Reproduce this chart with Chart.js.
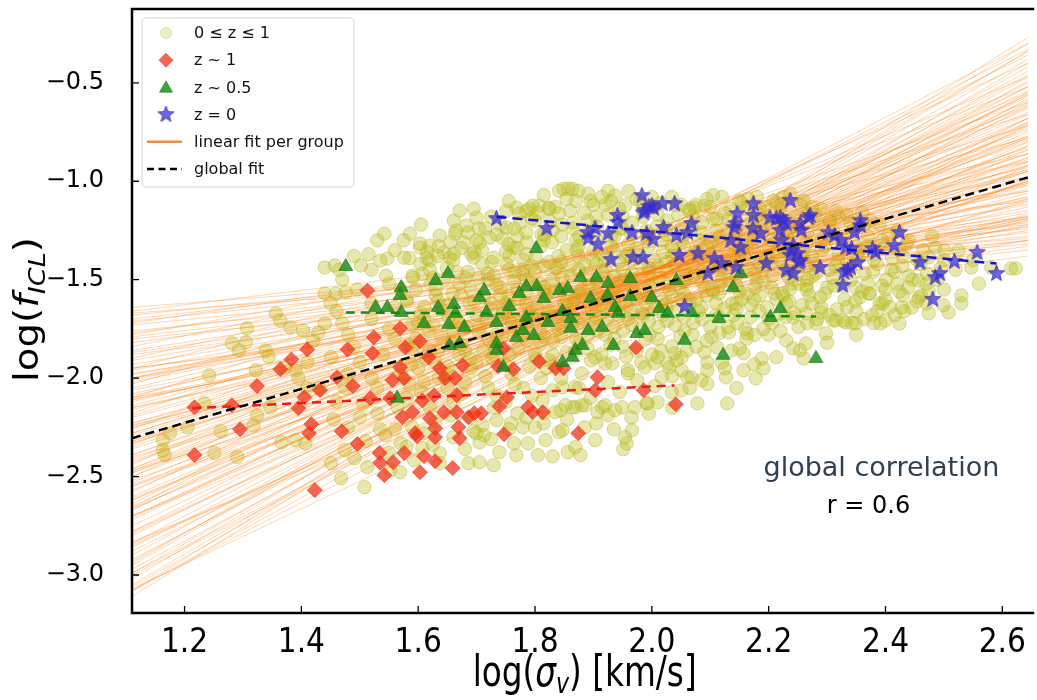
<!DOCTYPE html>
<html><head><meta charset="utf-8">
<script src="https://cdn.jsdelivr.net/npm/chart.js@4.4.1/dist/chart.umd.min.js"></script>
<style>html,body{margin:0;padding:0;background:#fff;overflow:hidden}#wrap{width:1037px;height:700px;position:relative}</style>
</head><body><div id="wrap"><canvas id="c"></canvas></div>
<script>
const xTicks = [1.2,1.4,1.6,1.8,2.0,2.2,2.4,2.6];
const yTicks = [-3.0,-2.5,-2.0,-1.5,-1.0,-0.5];
const xRange = [1.11, 2.644];
const yRange = [-3.193, -0.125];
const legendLabels = ['0 \u2264 z \u2264 1','z ~ 1','z ~ 0.5','z = 0','linear fit per group','global fit'];
const annotLines = ['global correlation','r = 0.6'];

// all groups, 0 <= z <= 1
const cloudPts = [
[1.163,-2.315],[1.163,-2.366],[1.166,-2.39],[1.175,-2.28],[1.205,-2.25],[1.234,-2.128],[1.242,-1.986],[1.251,-2.38],[1.262,-2.27],[1.281,-1.823],[1.29,-2.40],[1.293,-1.859],[1.305,-1.818],[1.307,-1.747],[1.318,-2.24],[1.322,-1.96],[1.324,-2.189],[1.339,-1.859],[1.344,-1.89],[1.347,-2.148],[1.356,-1.671],[1.364,-1.707],[1.366,-2.326],[1.372,-1.95],[1.381,-1.742],[1.39,-1.96],[1.39,-2.315],[1.395,-2.0],[1.403,-1.758],[1.407,-2.331],[1.41,-2.05],[1.42,-1.81],[1.429,-1.768],[1.44,-1.438],[1.44,-1.57],[1.44,-1.722],[1.451,-1.894],[1.451,-2.432],[1.457,-1.428],[1.459,-1.57],[1.46,-1.66],[1.468,-2.508],[1.474,-2.366],[1.476,-1.565],[1.48,-1.78],[1.48,-1.98],[1.491,-2.407],[1.50,-2.2],[1.502,-1.428],[1.508,-2.554],[1.513,-2.452],[1.52,-1.62],[1.52,-1.70],[1.53,-2.05],[1.535,-1.403],[1.542,-1.266],[1.544,-2.29],[1.547,-1.393],[1.55,-1.52],[1.552,-2.468],[1.56,-1.80],[1.569,-2.478],[1.57,-2.33],[1.576,-1.388],[1.58,-1.60],[1.586,-1.266],[1.59,-2.25],[1.593,-2.417],[1.60,-1.95],[1.603,-1.337],[1.603,-1.316],[1.607,-2.356],[1.607,-1.469],[1.615,-1.393],[1.62,-1.327],[1.62,-1.403],[1.62,-1.86],[1.63,-1.55],[1.637,-1.276],[1.637,-2.382],[1.637,-2.432],[1.644,-1.362],[1.65,-2.05],[1.654,-1.388],[1.661,-1.20],[1.661,-1.367],[1.663,-1.266],[1.67,-1.72],[1.671,-1.149],[1.678,-1.311],[1.683,-1.225],[1.686,-2.432],[1.69,-1.95],[1.695,-1.388],[1.70,-1.185],[1.70,-2.28],[1.705,-1.311],[1.705,-2.427],[1.705,-2.326],[1.713,-2.29],[1.72,-1.50],[1.722,-1.286],[1.729,-1.388],[1.729,-2.442],[1.734,-2.214],[1.739,-2.376],[1.75,-1.62],[1.751,-1.235],[1.751,-1.149],[1.759,-2.229],[1.763,-1.337],[1.764,-2.331],[1.768,-1.134],[1.768,-2.391],[1.773,-1.164],[1.779,-2.25],[1.78,-1.45],[1.788,-2.331],[1.79,-1.139],[1.796,-1.124],[1.80,-1.88],[1.805,-2.391],[1.807,-1.124],[1.813,-2.113],[1.815,-2.178],[1.818,-2.315],[1.824,-1.134],[1.83,-2.062],[1.83,-2.397],[1.835,-2.173],[1.841,-1.048],[1.841,-1.164],[1.841,-2.275],[1.844,-2.163],[1.847,-2.047],[1.847,-2.265],[1.849,-1.038],[1.852,-2.138],[1.856,-2.376],[1.857,-1.038],[1.864,-1.038],[1.864,-2.148],[1.869,-2.047],[1.869,-2.148],[1.869,-2.351],[1.874,-1.048],[1.878,-2.391],[1.88,-1.976],[1.88,-2.138],[1.886,-2.138],[1.891,-1.063],[1.903,-1.894],[1.903,-2.315],[1.907,-2.173],[1.915,-2.148],[1.92,-1.925],[1.92,-2.138],[1.925,-1.048],[1.925,-2.189],[1.932,-1.925],[1.937,-1.073],[1.937,-2.163],[1.949,-2.148],[1.951,-2.361],[1.954,-2.30],[1.957,-2.331],[1.959,-1.96],[1.959,-1.976],[1.966,-2.265],[1.971,-2.148],[1.988,-1.945],[1.991,-2.128],[1.993,-2.128],[2.005,-1.925],[2.01,-1.894],[2.01,-2.123],[2.017,-1.996],[2.027,-1.925],[2.03,-1.945],[2.034,-2.072],[2.039,-1.874],[2.051,-1.96],[2.051,-2.062],[2.051,-1.894],[2.061,-1.996],[2.068,-1.996],[2.073,-1.134],[2.078,-2.128],[2.085,-2.011],[2.09,-1.124],[2.09,-1.869],[2.095,-1.96],[2.095,-1.92],[2.112,-1.844],[2.127,-1.996],[2.129,-2.128],[2.132,-1.768],[2.157,-1.96],[2.157,-1.874],[2.163,-1.773],[2.178,-2.001],[2.188,-1.90],[2.191,-1.95],[2.208,-1.098],[2.213,-1.894],[2.22,-1.671],[2.23,-1.808],[2.237,-1.063],[2.242,-1.849],[2.242,-1.692],[2.254,-1.859],[2.264,-1.824],[2.264,-1.671],[2.281,-1.722],[2.29,-1.666],[2.298,-1.773],[2.31,-1.707],[2.315,-1.707],[2.327,-1.707],[2.332,-1.717],[2.349,-1.722],[2.349,-1.54],[2.373,-1.570],[2.391,-1.722],[2.395,-1.621],[2.40,-1.707],[2.424,-1.722],[2.428,-1.641],[2.445,-1.641],[2.457,-1.504],[2.457,-1.59],[2.474,-1.555],[2.474,-1.671],[2.474,-1.387],[2.485,-1.337],[2.501,-1.352],[2.508,-1.666],[2.525,-1.352],[2.53,-1.58],[2.547,-1.438],[2.581,-1.438],[2.615,-1.443],[2.623,-1.443],
[1.62,-1.45],[1.63,-1.58],[1.61,-1.70],[1.64,-1.79],[1.66,-1.40],[1.67,-1.52],[1.65,-1.63],[1.66,-1.76],[1.68,-1.86],[1.70,-1.30],[1.71,-1.42],[1.69,-1.55],[1.70,-1.68],[1.72,-1.80],[1.74,-1.22],[1.75,-1.36],[1.73,-1.48],[1.74,-1.58],[1.76,-1.72],[1.73,-1.84],[1.77,-1.28],[1.78,-1.40],[1.77,-1.55],[1.79,-1.66],[1.78,-1.78],[1.80,-1.20],[1.81,-1.33],[1.80,-1.46],[1.82,-1.58],[1.80,-1.70],[1.81,-1.82],[1.83,-1.25],[1.84,-1.38],[1.83,-1.50],[1.85,-1.62],[1.84,-1.75],[1.83,-1.88],[1.86,-1.15],[1.87,-1.30],[1.86,-1.43],[1.88,-1.55],[1.86,-1.68],[1.87,-1.80],[1.89,-1.20],[1.90,-1.35],[1.89,-1.47],[1.91,-1.60],[1.90,-1.72],[1.89,-1.85],[1.92,-1.12],[1.93,-1.28],[1.92,-1.40],[1.94,-1.52],[1.93,-1.65],[1.92,-1.78],[1.95,-1.18],[1.96,-1.32],[1.95,-1.45],[1.97,-1.57],[1.96,-1.70],[1.95,-1.84],[1.98,-1.10],[1.99,-1.25],[1.98,-1.38],[2.00,-1.50],[1.99,-1.62],[1.98,-1.75],[2.00,-1.88],[2.01,-1.17],[2.02,-1.30],[2.01,-1.43],[2.03,-1.55],[2.02,-1.68],[2.01,-1.80],[2.04,-1.12],[2.05,-1.24],[2.04,-1.36],[2.06,-1.48],[2.05,-1.60],[2.04,-1.73],[2.06,-1.86],[2.07,-1.18],[2.08,-1.30],[2.07,-1.42],[2.09,-1.54],[2.08,-1.66],[2.07,-1.78],[2.10,-1.13],[2.11,-1.25],[2.10,-1.37],[2.12,-1.50],[2.11,-1.62],[2.10,-1.74],[2.13,-1.20],[2.14,-1.32],[2.13,-1.44],[2.15,-1.56],[2.14,-1.68],[2.16,-1.14],[2.17,-1.27],[2.16,-1.39],[2.18,-1.51],[2.17,-1.63],[2.16,-1.75],[2.19,-1.20],[2.20,-1.33],[2.19,-1.45],[2.21,-1.57],[2.20,-1.70],[2.22,-1.15],[2.23,-1.28],[2.22,-1.40],[2.24,-1.52],[2.23,-1.62],[2.22,-1.76],[2.25,-1.22],[2.26,-1.35],[2.25,-1.47],[2.27,-1.58],[2.28,-1.17],[2.29,-1.30],[2.28,-1.42],[2.30,-1.54],[2.29,-1.64],[2.31,-1.25],[2.32,-1.37],[2.31,-1.49],[2.33,-1.60],[2.34,-1.21],[2.35,-1.33],[2.34,-1.45],[2.36,-1.56],[2.35,-1.66],[2.37,-1.28],[2.38,-1.40],[2.37,-1.52],[2.39,-1.62],[2.40,-1.33],[2.41,-1.45],[2.40,-1.55],[2.43,-1.38],[2.44,-1.48],[2.43,-1.58],[2.46,-1.42],[2.47,-1.52],
[1.645,-1.50],[1.685,-1.46],[1.725,-1.62],[1.765,-1.46],[1.795,-1.52],[1.835,-1.44],[1.875,-1.38],[1.915,-1.46],[1.955,-1.38],[1.995,-1.44],[2.035,-1.38],[2.075,-1.36],[2.115,-1.43],[2.155,-1.33],[2.195,-1.39],[2.235,-1.34],[2.275,-1.48],[2.315,-1.43],[2.355,-1.39],[1.705,-1.74],[1.745,-1.66],[1.785,-1.72],[1.825,-1.68],[1.865,-1.62],[1.905,-1.66],[1.945,-1.62],[1.985,-1.68],[2.025,-1.62],[2.065,-1.60],[2.105,-1.56],[2.145,-1.62],[2.185,-1.58],[2.225,-1.58],[2.265,-1.53],[1.785,-1.26],[1.825,-1.20],[1.865,-1.24],[1.905,-1.18],[1.945,-1.24],[1.985,-1.18],[2.025,-1.24],[2.065,-1.14],[2.105,-1.19],[2.145,-1.26],[2.185,-1.14],[2.225,-1.22],[2.265,-1.17],[2.305,-1.20],
[1.45,-1.62],[1.47,-1.72],[1.49,-1.84],[1.50,-1.92],[1.52,-2.0],[1.54,-1.88],[1.55,-1.75],[1.56,-1.64],[1.57,-1.98],[1.58,-2.10],[1.59,-1.85],[1.60,-1.72],[1.61,-2.02],[1.62,-2.15],[1.63,-1.92],[1.64,-1.65],[1.65,-1.98],[1.66,-2.12],[1.67,-1.88],[1.68,-2.02],[1.69,-2.20],[1.70,-1.92],[1.72,-2.05],[1.73,-1.88],[1.75,-2.12],[1.76,-1.98],[1.78,-2.05],[1.79,-1.94],[1.81,-2.0],[1.82,-1.95],[1.46,-2.12],[1.48,-2.25],[1.51,-2.32],[1.53,-2.18],[1.55,-2.38],[1.56,-2.26],[1.58,-2.35],[1.61,-2.28],[1.63,-2.22],[1.66,-2.30],[1.68,-2.36],[1.71,-2.24],[1.73,-2.15],[1.77,-2.18],[1.80,-2.25],[1.43,-2.05],[1.41,-1.92],[1.47,-1.50],[1.49,-1.38],[1.52,-1.45],[1.56,-1.35],[1.59,-1.48],[1.57,-1.55],[1.53,-1.30],
[2.12,-1.08],[2.15,-1.10],[2.18,-1.08],[2.22,-1.12],[2.26,-1.10],[2.29,-1.14],[2.32,-1.18],[2.36,-1.16],[2.39,-1.22],[2.42,-1.25],[2.44,-1.30],[2.48,-1.28],[2.50,-1.40],[2.52,-1.45],[2.55,-1.40],[2.56,-1.52],[2.50,-1.55],[2.53,-1.62],[2.47,-1.62],[2.40,-1.60],[2.42,-1.52],[2.38,-1.72],[2.35,-1.78],[2.30,-1.82],[2.26,-1.90],[2.20,-1.78],[2.15,-1.85],[2.12,-1.92],[2.05,-1.12],[2.00,-1.08],[1.96,-1.05],[1.93,-1.10],[1.90,-1.12],[1.87,-1.10],
[1.585,-1.39],[1.591,-1.49],[1.581,-1.61],[1.589,-1.73],[1.583,-1.83],[1.588,-1.93],[1.615,-1.36],[1.621,-1.52],[1.611,-1.64],[1.618,-1.76],[1.613,-1.90],[1.655,-1.31],[1.649,-1.44],[1.659,-1.57],[1.652,-1.69],[1.657,-1.82],[1.651,-1.94],[1.685,-1.26],[1.691,-1.37],[1.681,-1.49],[1.688,-1.62],[1.683,-1.74],[1.689,-1.90],[1.715,-1.24],[1.709,-1.35],[1.719,-1.47],[1.712,-1.59],[1.717,-1.71],[1.711,-1.86],[1.745,-1.29],[1.751,-1.42],[1.741,-1.54],[1.748,-1.67],[1.743,-1.79],[1.749,-1.93],[1.775,-1.21],[1.769,-1.34],[1.779,-1.47],[1.772,-1.60],[1.777,-1.72],[1.771,-1.85],[1.805,-1.16],[1.811,-1.27],[1.801,-1.39],[1.808,-1.52],[1.803,-1.64],[1.809,-1.77],[1.802,-1.90],[1.835,-1.13],[1.829,-1.31],[1.839,-1.44],[1.832,-1.56],[1.837,-1.69],[1.831,-1.81],[1.836,-1.94],[1.865,-1.21],[1.871,-1.35],[1.861,-1.48],[1.868,-1.60],[1.863,-1.73],[1.869,-1.86],[1.895,-1.10],[1.889,-1.26],[1.899,-1.40],[1.892,-1.53],[1.897,-1.65],[1.891,-1.78],[1.896,-1.91],[1.925,-1.17],[1.931,-1.33],[1.921,-1.45],[1.928,-1.58],[1.923,-1.70],[1.929,-1.83],[1.955,-1.12],[1.949,-1.24],[1.959,-1.37],[1.952,-1.50],[1.957,-1.63],[1.951,-1.76],[1.956,-1.89],[1.985,-1.15],[1.991,-1.29],[1.981,-1.42],[1.988,-1.55],[1.983,-1.67],[1.989,-1.80],[1.982,-1.92],[2.015,-1.11],[2.009,-1.23],[2.019,-1.36],[2.012,-1.49],[2.017,-1.61],[2.011,-1.74],[2.016,-1.86],[2.045,-1.17],[2.051,-1.30],[2.041,-1.42],[2.048,-1.54],[2.043,-1.66],[2.049,-1.79],[2.042,-1.91],[2.075,-1.12],[2.069,-1.24],[2.079,-1.36],[2.072,-1.48],[2.077,-1.60],[2.071,-1.72],[2.076,-1.84],[2.105,-1.07],[2.111,-1.19],[2.101,-1.31],[2.108,-1.43],[2.103,-1.55],[2.109,-1.68],[2.102,-1.79],[2.135,-1.14],[2.129,-1.26],[2.139,-1.38],[2.132,-1.50],[2.137,-1.62],[2.131,-1.74],[2.136,-1.86],[2.165,-1.09],[2.171,-1.21],[2.161,-1.33],[2.168,-1.45],[2.163,-1.57],[2.169,-1.69],[2.162,-1.80],[2.195,-1.13],[2.189,-1.26],[2.199,-1.38],[2.192,-1.51],[2.197,-1.64],[2.191,-1.75],[2.225,-1.08],[2.231,-1.20],[2.221,-1.33],[2.228,-1.45],[2.223,-1.57],[2.229,-1.69],[2.255,-1.12],[2.249,-1.25],[2.259,-1.39],[2.252,-1.52],[2.257,-1.63],[2.251,-1.74],[2.285,-1.22],[2.291,-1.35],[2.281,-1.47],[2.288,-1.59],[2.283,-1.70],[2.315,-1.15],[2.309,-1.29],[2.319,-1.41],[2.312,-1.53],[2.317,-1.65],[2.345,-1.25],[2.351,-1.37],[2.341,-1.50],[2.348,-1.61],[2.343,-1.72],[2.375,-1.20],[2.369,-1.33],[2.379,-1.46],[2.372,-1.57],[2.377,-1.68],[2.405,-1.27],[2.411,-1.39],[2.401,-1.50],[2.408,-1.64],[2.435,-1.32],[2.429,-1.43],[2.439,-1.54],[2.432,-1.66],[2.465,-1.35],[2.471,-1.47],[2.461,-1.58],[2.495,-1.44],[2.489,-1.50],[2.499,-1.63],
[1.605,-2.07],[1.635,-2.00],[1.675,-2.08],[1.715,-1.99],[1.735,-2.09],[1.765,-2.03],[1.795,-2.09],[1.845,-2.00],[1.875,-2.05],[1.895,-2.10],[1.925,-2.02],[1.945,-2.07],[1.975,-2.01],[2.005,-2.04],[2.035,-1.99],[2.065,-2.05],[2.095,-2.03],[2.125,-1.95],[2.145,-2.05],[2.175,-1.93],[1.625,-2.34],[1.655,-2.19],[1.695,-2.27],[1.725,-2.31],[1.755,-2.26],[1.785,-2.20],[1.815,-2.23],[1.855,-2.21],[1.885,-2.25],[1.905,-2.23],[1.935,-2.26],[1.965,-2.20],[1.995,-2.18],[2.035,-2.15],[1.455,-2.21],[1.475,-2.05],[1.505,-2.13],[1.535,-2.26],[1.565,-2.15],[1.585,-2.03],
[1.465,-1.45],[1.495,-1.55],[1.515,-1.37],[1.545,-1.48],[1.575,-1.30],[1.605,-1.22],[1.635,-1.33],[1.665,-1.25],[1.695,-1.14],[1.725,-1.18],[1.755,-1.10],[1.785,-1.15],[1.815,-1.07],
[1.604,-1.42],[1.596,-1.55],[1.604,-1.67],[1.596,-1.80],[1.634,-1.38],[1.626,-1.49],[1.634,-1.61],[1.626,-1.73],[1.634,-1.86],[1.674,-1.34],[1.666,-1.46],[1.674,-1.58],[1.666,-1.71],[1.674,-1.83],[1.704,-1.24],[1.696,-1.36],[1.704,-1.49],[1.696,-1.61],[1.704,-1.77],[1.734,-1.27],[1.726,-1.41],[1.734,-1.53],[1.726,-1.65],[1.734,-1.78],[1.726,-1.90],[1.764,-1.24],[1.756,-1.38],[1.764,-1.51],[1.756,-1.63],[1.764,-1.76],[1.756,-1.88],[1.794,-1.19],[1.786,-1.31],[1.794,-1.43],[1.786,-1.56],[1.794,-1.69],[1.786,-1.81],[1.824,-1.14],[1.816,-1.27],[1.824,-1.41],[1.816,-1.54],[1.824,-1.66],[1.816,-1.79],[1.824,-1.91],[1.854,-1.09],[1.846,-1.22],[1.854,-1.35],[1.846,-1.49],[1.854,-1.61],[1.846,-1.74],[1.854,-1.87],[1.884,-1.16],[1.876,-1.28],[1.884,-1.42],[1.876,-1.57],[1.884,-1.70],[1.876,-1.82],[1.914,-1.08],[1.906,-1.23],[1.914,-1.37],[1.906,-1.50],[1.914,-1.63],[1.906,-1.76],[1.914,-1.88],[1.944,-1.14],[1.936,-1.28],[1.944,-1.41],[1.936,-1.55],[1.944,-1.68],[1.936,-1.80],[1.974,-1.09],[1.966,-1.21],[1.974,-1.34],[1.966,-1.47],[1.974,-1.60],[1.966,-1.73],[1.974,-1.86],[2.004,-1.13],[1.996,-1.27],[2.004,-1.40],[1.996,-1.53],[2.004,-1.65],[1.996,-1.78],[2.034,-1.08],[2.026,-1.20],[2.034,-1.33],[2.026,-1.46],[2.034,-1.58],[2.026,-1.71],[2.034,-1.84],[2.064,-1.15],[2.056,-1.27],[2.064,-1.39],[2.056,-1.51],[2.064,-1.63],[2.056,-1.76],[2.094,-1.09],[2.086,-1.21],[2.094,-1.33],[2.086,-1.46],[2.094,-1.58],[2.086,-1.70],[2.094,-1.81],[2.124,-1.16],[2.116,-1.28],[2.124,-1.40],[2.116,-1.53],[2.124,-1.65],[2.116,-1.77],[2.154,-1.11],[2.146,-1.23],[2.154,-1.35],[2.146,-1.48],[2.154,-1.60],[2.146,-1.72],[2.184,-1.17],[2.176,-1.29],[2.184,-1.42],[2.176,-1.54],[2.184,-1.66],[2.176,-1.78],[2.214,-1.11],[2.206,-1.24],[2.214,-1.36],[2.206,-1.48],[2.214,-1.60],[2.206,-1.72],[2.244,-1.18],[2.236,-1.31],[2.244,-1.43],[2.236,-1.55],[2.244,-1.67],[2.274,-1.13],[2.266,-1.26],[2.274,-1.38],[2.266,-1.50],[2.274,-1.62],[2.266,-1.72],[2.304,-1.20],[2.296,-1.33],[2.304,-1.45],[2.296,-1.57],[2.304,-1.68],[2.334,-1.17],[2.326,-1.29],[2.334,-1.41],[2.326,-1.53],[2.334,-1.64],[2.364,-1.22],[2.356,-1.35],[2.364,-1.47],[2.356,-1.59],[2.364,-1.70],[2.394,-1.30],[2.386,-1.42],[2.394,-1.53],[2.386,-1.66],[2.424,-1.35],[2.416,-1.46],[2.424,-1.56],[2.416,-1.68],[2.454,-1.40],[2.446,-1.50],[2.454,-1.61],
[1.755,-1.32],[1.755,-1.45],[1.755,-1.58],[1.755,-1.70],[1.785,-1.37],[1.785,-1.50],[1.785,-1.62],[1.785,-1.74],[1.815,-1.30],[1.815,-1.43],[1.815,-1.56],[1.815,-1.70],[1.845,-1.28],[1.845,-1.41],[1.845,-1.55],[1.845,-1.67],[1.845,-1.79],[1.875,-1.33],[1.875,-1.45],[1.875,-1.58],[1.875,-1.72],[1.905,-1.29],[1.905,-1.42],[1.905,-1.56],[1.905,-1.69],[1.935,-1.35],[1.935,-1.48],[1.935,-1.61],[1.935,-1.74],[1.965,-1.27],[1.965,-1.40],[1.965,-1.53],[1.965,-1.66],[1.995,-1.33],[1.995,-1.46],[1.995,-1.59],[1.995,-1.71],[2.025,-1.27],[2.025,-1.41],[2.025,-1.52],[2.025,-1.65],[2.055,-1.33],[2.055,-1.45],[2.055,-1.57],[2.055,-1.69],[2.085,-1.26],[2.085,-1.39],[2.085,-1.51],[2.085,-1.64],[2.115,-1.32],[2.115,-1.45],[2.115,-1.57],[2.115,-1.69],[2.145,-1.28],[2.145,-1.40],[2.145,-1.53],[2.145,-1.65],[2.175,-1.23],[2.175,-1.35],[2.175,-1.47],[2.175,-1.60],[2.205,-1.30],[2.205,-1.42],[2.205,-1.54],[2.235,-1.25],[2.235,-1.37],[2.235,-1.49],[2.235,-1.61],[2.265,-1.31],[2.265,-1.43],[2.265,-1.55]
];

// z ~ 1
const zOnePts = [
[1.217,-2.148],[1.281,-2.138],[1.217,-2.39],[1.295,-2.26],[1.324,-2.04],[1.364,-1.955],[1.383,-1.905],[1.41,-1.854],[1.405,-2.097],[1.417,-2.234],[1.413,-2.28],[1.395,-2.153],[1.432,-2.062],[1.423,-2.569],[1.469,-2.27],[1.496,-2.335],[1.461,-1.996],[1.479,-1.854],[1.488,-2.04],[1.524,-1.793],[1.522,-1.874],[1.513,-1.555],[1.569,-1.747],[1.578,-1.844],[1.569,-1.945],[1.556,-2.011],[1.576,-2.0],[1.518,-2.102],[1.552,-2.102],[1.573,-2.199],[1.59,-2.173],[1.534,-2.38],[1.535,-2.43],[1.557,-2.427],[1.576,-2.38],[1.542,-2.493],[1.595,-2.28],[1.603,-1.813],[1.618,-1.894],[1.637,-1.95],[1.646,-2.0],[1.663,-2.0],[1.676,-1.935],[1.746,-1.849],[1.737,-1.94],[1.763,-1.955],[1.807,-1.915],[1.835,-1.95],[1.849,-1.95],[1.907,-1.996],[1.903,-2.062],[1.973,-1.844],[1.986,-2.062],[2.041,-2.133],[1.666,-2.087],[1.627,-2.087],[1.607,-2.113],[1.644,-2.173],[1.666,-2.173],[1.686,-2.199],[1.696,-2.178],[1.708,-2.178],[1.739,-2.143],[1.752,-2.097],[1.788,-2.148],[1.796,-2.173],[1.813,-2.173],[1.62,-2.204],[1.629,-2.255],[1.669,-2.249],[1.598,-2.295],[1.629,-2.3],[1.671,-2.305],[1.747,-2.285],[1.874,-2.28],[1.61,-2.397],[1.629,-2.422],[1.659,-2.457],[1.603,-2.478]
];

// z ~ 0.5
const zHalfPts = [
[1.802,-1.342],[1.651,-1.469],[1.63,-1.504],[1.705,-1.59],[1.713,-1.555],[1.785,-1.535],[1.803,-1.535],[1.773,-1.57],[1.842,-1.555],[1.856,-1.545],[1.878,-1.489],[1.905,-1.489],[1.963,-1.494],[1.925,-1.519],[1.634,-1.641],[1.661,-1.626],[1.664,-1.671],[1.61,-1.722],[1.652,-1.727],[1.679,-1.742],[1.717,-1.666],[1.734,-1.717],[1.756,-1.636],[1.785,-1.692],[1.815,-1.595],[1.822,-1.717],[1.847,-1.661],[1.861,-1.697],[1.895,-1.595],[1.924,-1.58],[1.937,-1.641],[1.942,-1.671],[2.0,-1.59],[2.013,-1.646],[2.027,-1.671],[2.068,-1.666],[1.891,-1.758],[1.915,-1.742],[1.861,-1.747],[1.779,-1.758],[1.768,-1.793],[1.798,-1.783],[1.974,-1.773],[1.988,-1.758],[2.056,-1.808],[1.934,-1.834],[1.881,-1.834],[1.734,-1.824],[2.042,-1.504],[2.139,-1.54],[2.152,-1.469],[1.963,-1.585],[2.115,-1.697],[2.203,-1.692],[2.22,-1.646],[2.122,-1.884],[2.281,-1.90],[1.847,-1.92],[1.864,-1.894],[1.869,-1.859],[1.476,-1.433],[1.527,-1.641],[1.547,-1.641],[1.571,-1.54],[1.569,-1.58],[1.571,-1.666],[1.734,-1.859],[1.746,-1.945],[1.564,-2.102],[1.671,-1.824],[1.654,-1.834]
];

// z = 0
const zZeroPts = [
[1.734,-1.19],[1.82,-1.24],[1.941,-1.174],[1.942,-1.21],[1.983,-1.073],[1.988,-1.149],[2.0,-1.124],[2.018,-1.114],[2.039,-1.114],[1.89,-1.261],[1.891,-1.291],[1.908,-1.32],[1.903,-1.24],[1.925,-1.266],[1.966,-1.261],[1.991,-1.266],[2.002,-1.296],[2.02,-1.235],[2.042,-1.276],[2.061,-1.261],[2.068,-1.215],[1.93,-1.398],[1.968,-1.387],[1.985,-1.387],[2.047,-1.377],[2.079,-1.367],[2.056,-1.636],[1.995,-1.13],[2.003,-1.137],[1.986,-1.16],[2.107,-1.392],[2.12,-1.418],[2.144,-1.438],[2.096,-1.469],[2.135,-1.301],[2.144,-1.215],[2.146,-1.165],[2.141,-1.235],[2.152,-1.337],[2.174,-1.114],[2.174,-1.174],[2.173,-1.24],[2.186,-1.266],[2.202,-1.185],[2.22,-1.185],[2.225,-1.2],[2.237,-1.098],[2.196,-1.418],[2.23,-1.453],[2.242,-1.469],[2.254,-1.403],[2.25,-1.367],[2.239,-1.352],[2.22,-1.25],[2.222,-1.3],[2.23,-1.215],[2.254,-1.215],[2.256,-1.25],[2.268,-1.185],[2.242,-1.327],[2.288,-1.438],[2.213,-1.19],[2.271,-1.174],[2.237,-1.377],[2.252,-1.413],[2.302,-1.261],[2.313,-1.276],[2.324,-1.301],[2.332,-1.337],[2.342,-1.342],[2.378,-1.342],[2.383,-1.362],[2.347,-1.261],[2.357,-1.2],[2.357,-1.225],[2.352,-1.413],[2.34,-1.438],[2.335,-1.453],[2.329,-1.463],[2.327,-1.529],[2.424,-1.261],[2.415,-1.327],[2.459,-1.413],[2.485,-1.489],[2.493,-1.469],[2.481,-1.60],[2.518,-1.408],[2.557,-1.362],[2.59,-1.469]
];

// per-group linear fits: value at x = fitX[0] and x = fitX[1]
const fitX = [1.11, 2.644];
const fitLeft = [-1.64,-1.67,-1.71,-1.73,-1.77,-1.79,-1.82,-1.86,-1.87,-1.91,-1.93,-1.96,-1.98,-2.01,-2.02,-2.05,-2.08,-2.09,-2.12,-2.14,-2.16,-2.19,-2.20,-2.23,-2.25,-2.28,-2.29,-2.32,-2.35,-2.36,-2.39,-2.41,-2.43,-2.46,-2.48,-2.50,-2.53,-2.55,-2.57,-2.60,-2.62,-2.65,-2.67,-2.70,-2.72,-2.75,-2.78,-2.80,-2.84,-2.86,-2.90,-2.93,-2.95,-2.99,-3.02,-3.05,-3.08,-3.11,
-1.66,-1.72,-1.78,-1.84,-1.90,-1.95,-2.03,-2.10,-2.18,-2.26,-2.34,-2.44,-1.80,-1.88,-1.98,-2.06,-2.15,-2.24,-2.33,-2.42,-2.52,-2.61,-2.70,-2.79,-2.88,-2.97,-3.06,-2.58,-2.66,-2.50,-1.70,-2.00,
-2.40,-2.55,-2.70,-2.85,-3.00,-2.25,-2.10,-1.95,-2.62,-2.92,-2.32,-2.78,-3.08,-2.48,-2.15,
-2.11,-2.39,-2.67,-1.68,-2.00,-2.33,-2.66,-2.99,-2.00,-2.23,-2.47,-2.71,-2.94,-1.95,-2.24,-2.54,-2.84,-3.08,-2.10,-2.28,-2.46,-2.64,-1.76,-2.11,-2.47,-2.83,-3.07];
const fitRight = [-1.29,-1.32,-1.24,-1.28,-1.19,-1.26,-1.21,-1.15,-1.23,-1.12,-1.18,-1.09,-1.16,-1.05,-1.11,-1.02,-1.08,-0.99,-1.04,-0.95,-1.01,-0.92,-0.98,-0.89,-0.94,-0.86,-0.92,-0.83,-0.80,-0.88,-0.77,-0.84,-0.74,-0.79,-0.71,-0.77,-0.68,-0.73,-0.65,-0.70,-0.61,-0.66,-0.57,-0.63,-0.54,-0.59,-0.50,-0.56,-0.46,-0.52,-0.42,-0.47,-0.38,-0.44,-0.34,-0.40,-0.30,-0.27,
-1.10,-1.05,-0.98,-0.90,-0.86,-0.78,-0.72,-0.66,-0.60,-0.52,-0.47,-0.40,-1.35,-1.30,-1.25,-1.20,-1.13,-1.06,-1.00,-0.94,-0.88,-0.82,-0.75,-0.68,-0.62,-0.55,-0.49,-0.36,-0.30,-0.55,-1.18,-0.93,
-1.10,-1.00,-0.90,-0.80,-0.70,-1.20,-1.30,-1.38,-0.78,-0.60,-1.02,-0.72,-0.58,-0.95,-1.22,
-1.19,-0.86,-0.52,-1.22,-1.08,-0.95,-0.82,-0.68,-1.23,-1.01,-0.78,-0.56,-0.34,-1.33,-1.17,-1.00,-0.84,-0.71,-1.18,-0.90,-0.62,-0.33,-1.30,-1.19,-1.09,-0.99,-0.92];

const fitZero = [[1.734,-1.18],[2.59,-1.418]];
const fitHalf = [[1.476,-1.666],[2.281,-1.687]];
const fitOne = [[1.213,-2.153],[2.039,-2.037]];
const globalFit = [[1.11,-2.305],[2.644,-0.98]];

// ---------- styles ----------
const COL = {
  cloudBg:'rgba(188,189,34,0.36)', cloudBd:'rgba(175,178,30,0.42)',
  redBg:'rgba(240,45,20,0.72)', redBd:'rgba(235,60,30,0.65)',
  grnBg:'rgba(25,140,25,0.82)', grnBd:'rgba(20,110,20,0.6)',
  bluBg:'rgba(45,45,225,0.72)', bluBd:'rgba(80,50,170,0.85)',
  orange:'rgba(255,127,14,0.36)'
};
function makeStar(r, fill, stroke){
  const c=document.createElement('canvas'); const s=Math.ceil(2*r+4); c.width=s; c.height=s;
  const g=c.getContext('2d'); g.beginPath();
  for(let i=0;i<10;i++){const rad=i%2?r*0.42:r; const a=-Math.PI/2+i*Math.PI/5; g.lineTo(s/2+rad*Math.cos(a), s/2+rad*Math.sin(a));}
  g.closePath(); g.fillStyle=fill; g.fill(); g.lineWidth=1; g.strokeStyle=stroke; g.stroke(); return c;
}
const starImg = makeStar(8.5, COL.bluBg, COL.bluBd);
const toXY = a => a.map(p=>({x:p[0],y:p[1]}));

const datasets = [];
datasets.push({label:legendLabels[0], data:toXY(cloudPts), pointRadius:6.7, pointBackgroundColor:COL.cloudBg, pointBorderColor:COL.cloudBd, pointBorderWidth:1, order:100});
for(let i=0;i<Math.min(fitLeft.length,fitRight.length);i++){
  datasets.push({label:legendLabels[4], data:[{x:fitX[0],y:fitLeft[i]},{x:fitX[1],y:fitRight[i]}], showLine:true, pointRadius:0, borderColor:COL.orange, borderWidth:0.9, order:90});
}
datasets.push({label:legendLabels[1], data:toXY(zOnePts), pointStyle:'rectRot', pointRadius:7.5, pointBackgroundColor:COL.redBg, pointBorderColor:COL.redBd, pointBorderWidth:1, order:30});
datasets.push({label:legendLabels[2], data:toXY(zHalfPts), pointStyle:'triangle', pointRadius:8, pointBackgroundColor:COL.grnBg, pointBorderColor:COL.grnBd, pointBorderWidth:1, order:20});
datasets.push({label:legendLabels[3], data:toXY(zZeroPts), pointStyle:starImg, pointRadius:8, order:10});
datasets.push({label:'fit z~1', data:toXY(fitOne), showLine:true, pointRadius:0, borderColor:'#f01a1a', borderWidth:2.5, borderDash:[9,6], order:3});
datasets.push({label:'fit z~0.5', data:toXY(fitHalf), showLine:true, pointRadius:0, borderColor:'#168a16', borderWidth:2.5, borderDash:[9,6], order:2});
datasets.push({label:'fit z=0', data:toXY(fitZero), showLine:true, pointRadius:0, borderColor:'#1515c8', borderWidth:2.5, borderDash:[10,6], order:1});
datasets.push({label:legendLabels[5], data:toXY(globalFit), showLine:true, pointRadius:0, borderColor:'#000', borderWidth:2.5, borderDash:[9,5], order:0});

function measureRich(ctx, parts){let w=0; parts.forEach(p=>{ctx.font=p.f; w+=ctx.measureText(p.t).width;}); return w;}
function drawRich(ctx, parts, x, y){
  let cx=x-measureRich(ctx,parts)/2;
  parts.forEach(p=>{ctx.font=p.f; ctx.fillText(p.t, cx, y+(p.dy||0)); cx+=ctx.measureText(p.t).width;});
}

const deco = {
  id:'deco',
  afterDatasetsDraw(chart){
    const {ctx, scales:{x,y}} = chart;
    ctx.save();
    ctx.textAlign='center'; ctx.textBaseline='alphabetic';
    ctx.fillStyle='#2e4053'; ctx.font='27px "DejaVu Sans"';
    ctx.fillText(annotLines[0], x.getPixelForValue(2.393), y.getPixelForValue(-2.498));
    ctx.fillStyle='#000'; ctx.font='24px "DejaVu Sans"';
    ctx.fillText(annotLines[1], x.getPixelForValue(2.371), y.getPixelForValue(-2.686));
    ctx.restore();
  },
  afterDraw(chart){
    const {ctx, chartArea:a, scales:{x,y}} = chart;
    ctx.save();
    // spines
    ctx.strokeStyle='#000'; ctx.lineWidth=2.5; ctx.lineCap='square';
    ctx.beginPath(); ctx.moveTo(a.left, a.top); ctx.lineTo(a.right+5, a.top);
    ctx.moveTo(a.left, a.top); ctx.lineTo(a.left, a.bottom); ctx.lineTo(a.right+5, a.bottom); ctx.stroke();
    // inward ticks
    ctx.lineWidth=1.3; ctx.lineCap='butt'; ctx.beginPath();
    x.ticks.forEach(t=>{const px=x.getPixelForValue(t.value); ctx.moveTo(px,a.bottom); ctx.lineTo(px,a.bottom-7);});
    y.ticks.forEach(t=>{const py=y.getPixelForValue(t.value); ctx.moveTo(a.left,py); ctx.lineTo(a.left+7,py);});
    ctx.stroke();
    // legend
    const bx=a.left+10, by=a.top+9, bw=212, bh=169;
    ctx.beginPath(); ctx.roundRect(bx,by,bw,bh,4); ctx.fillStyle='rgba(255,255,255,0.85)'; ctx.fill();
    ctx.strokeStyle='#d4d4d4'; ctx.lineWidth=1; ctx.stroke();
    const rowY=i=>by+15+i*27.2, sx=bx+24;
    const H=Chart.helpers;
    ctx.fillStyle='rgba(188,189,34,0.26)'; ctx.strokeStyle='rgba(175,178,30,0.32)'; ctx.lineWidth=1;
    H.drawPoint(ctx,{pointStyle:'circle',radius:5.5,borderWidth:1},sx,rowY(0));
    ctx.fillStyle=COL.redBg; ctx.strokeStyle=COL.redBd;
    H.drawPoint(ctx,{pointStyle:'rectRot',radius:7,borderWidth:1},sx,rowY(1));
    ctx.fillStyle=COL.grnBg; ctx.strokeStyle=COL.grnBd;
    H.drawPoint(ctx,{pointStyle:'triangle',radius:7.5,borderWidth:1},sx,rowY(2)+1);
    ctx.drawImage(starImg, sx-starImg.width/2, rowY(3)-starImg.height/2);
    ctx.strokeStyle='rgba(235,135,50,0.95)'; ctx.lineWidth=2.5;
    ctx.beginPath(); ctx.moveTo(bx+5,rowY(4)); ctx.lineTo(bx+40,rowY(4)); ctx.stroke();
    ctx.strokeStyle='#000'; ctx.setLineDash([7,4.5]);
    ctx.beginPath(); ctx.moveTo(bx+5,rowY(5)); ctx.lineTo(bx+40,rowY(5)); ctx.stroke();
    ctx.setLineDash([]);
    ctx.fillStyle='#111'; ctx.font='16px "DejaVu Sans"'; ctx.textAlign='left'; ctx.textBaseline='middle';
    legendLabels.forEach((l,i)=>ctx.fillText(l, bx+52, rowY(i)+1));
    // x axis title, fitted to its width in the reference
    ctx.fillStyle='#000'; ctx.textAlign='left'; ctx.textBaseline='alphabetic';
    const NF='"DejaVu Sans Condensed","DejaVu Sans"';
    const xParts=[{t:'log(',f:'43px '+NF},{t:'\u03c3',f:'italic 43px '+NF},{t:'v',f:'italic 29px '+NF,dy:7},{t:') [km/s]',f:'43px '+NF}];
    ctx.save();
    ctx.translate(x.getPixelForValue(1.885), 686);
    ctx.scale(224/measureRich(ctx,xParts),1);
    drawRich(ctx,xParts,0,0);
    ctx.restore();
    // y axis title
    const DF='"DejaVu Sans"';
    const yParts=[{t:'log(',f:'33px '+DF},{t:'f',f:'italic 33px '+DF},{t:'ICL',f:'italic 23px '+DF,dy:7},{t:')',f:'33px '+DF}];
    ctx.save();
    ctx.translate(38, y.getPixelForValue(-1.652)); ctx.rotate(-Math.PI/2);
    ctx.scale(145/measureRich(ctx,yParts),1);
    drawRich(ctx,yParts,0,0);
    ctx.restore();
    ctx.restore();
  }
};

new Chart(document.getElementById('c'), {
  type:'scatter',
  data:{datasets},
  options:{
    responsive:true, maintainAspectRatio:false, animation:false, events:[],
    layout:{padding:{top:8,left:0,right:0,bottom:0}},
    plugins:{legend:{display:false}, tooltip:{enabled:false}},
    scales:{
      x:{type:'linear', min:xRange[0], max:xRange[1],
        afterBuildTicks:s=>{s.ticks=xTicks.map(v=>({value:v}));},
        afterFit:s=>{s.height=87; s.paddingLeft=0; s.paddingRight=0;},
        grid:{display:false}, border:{display:false},
        ticks:{autoSkip:false, maxRotation:0, padding:3, color:'#000',
          font:{family:'"DejaVu Sans Condensed","DejaVu Sans"', size:33},
          callback:v=>Number(v).toFixed(1)}},
      y:{type:'linear', min:yRange[0], max:yRange[1],
        afterBuildTicks:s=>{s.ticks=yTicks.map(v=>({value:v}));},
        afterFit:s=>{s.width=132; s.paddingTop=0; s.paddingBottom=0;},
        grid:{display:false}, border:{display:false},
        ticks:{autoSkip:false, padding:20, color:'#000',
          font:{family:'"DejaVu Sans"', size:24},
          callback:v=>(v<0?'\u2212':'')+Math.abs(v).toFixed(1)}}
    }
  },
  plugins:[deco]
});
</script>
</body></html>
